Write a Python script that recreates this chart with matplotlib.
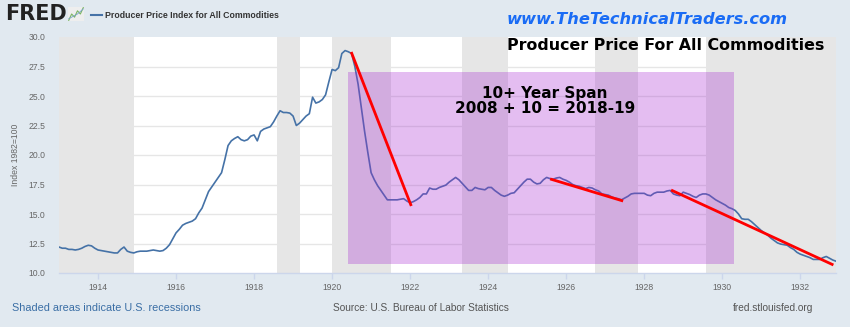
import numpy as np
import matplotlib
matplotlib.use("Agg")
from matplotlib import pyplot as plt
from matplotlib.patches import Rectangle

# monthly PPI, all commodities (Index 1982=100), Jan 1913 .. Dec 1932
ppi = [
    12.2, 12.1, 12.1, 12.0, 12.0, 11.95, 12.0, 12.1, 12.25, 12.35, 12.3, 12.1,    # 1913
    11.95, 11.9, 11.85, 11.8, 11.75, 11.7, 11.7, 12.0, 12.2, 11.85, 11.75, 11.7,  # 1914
    11.8, 11.85, 11.85, 11.85, 11.9, 11.95, 11.9, 11.85, 11.9, 12.1, 12.4, 12.9,  # 1915
    13.4, 13.7, 14.05, 14.2, 14.3, 14.4, 14.6, 15.1, 15.5, 16.2, 16.9, 17.3,      # 1916
    17.7, 18.1, 18.5, 19.6, 20.8, 21.2, 21.4, 21.55, 21.3, 21.2, 21.3, 21.6,      # 1917
    21.7, 21.2, 22.0, 22.2, 22.3, 22.4, 22.8, 23.3, 23.75, 23.6, 23.6, 23.55,     # 1918
    23.3, 22.5, 22.7, 23.0, 23.3, 23.5, 24.9, 24.4, 24.5, 24.7, 25.1, 26.2,       # 1919
    27.25, 27.15, 27.4, 28.6, 28.85, 28.75, 28.6, 27.5, 26.0, 24.0, 22.0, 20.2,   # 1920
    18.5, 17.9, 17.4, 17.0, 16.6, 16.2, 16.2, 16.2, 16.2, 16.25, 16.3, 16.1,      # 1921
    15.95, 16.05, 16.2, 16.4, 16.7, 16.7, 17.2, 17.1, 17.1, 17.25, 17.35, 17.45,  # 1922
    17.7, 17.9, 18.1, 17.9, 17.6, 17.3, 17.0, 17.0, 17.25, 17.15, 17.1, 17.05,    # 1923
    17.25, 17.25, 17.0, 16.8, 16.6, 16.5, 16.6, 16.75, 16.8, 17.1, 17.4, 17.7,    # 1924
    17.95, 17.95, 17.7, 17.55, 17.6, 17.9, 18.1, 18.0, 17.95, 18.05, 18.1, 17.95, # 1925
    17.85, 17.7, 17.5, 17.4, 17.35, 17.25, 17.15, 17.25, 17.2, 17.05, 16.95, 16.7, # 1926
    16.65, 16.6, 16.45, 16.35, 16.3, 16.2, 16.35, 16.5, 16.7, 16.75, 16.75, 16.75, # 1927
    16.75, 16.6, 16.55, 16.75, 16.85, 16.85, 16.85, 16.95, 17.0, 16.7, 16.6, 16.55, # 1928
    16.85, 16.75, 16.65, 16.5, 16.4, 16.6, 16.7, 16.7, 16.6, 16.4, 16.2, 16.05,   # 1929
    15.9, 15.75, 15.55, 15.45, 15.3, 15.0, 14.6, 14.55, 14.55, 14.35, 14.1, 13.85, # 1930
    13.6, 13.4, 13.2, 12.95, 12.75, 12.55, 12.45, 12.4, 12.35, 12.15, 12.0, 11.75, # 1931
    11.6, 11.5, 11.4, 11.3, 11.15, 11.15, 11.15, 11.3, 11.4, 11.25, 11.1, 11.0,   # 1932
]
start_year = 1913

# NBER recessions (start, end) as decimal years
rec_start = [1913.0, 1918.583, 1920.0, 1923.333, 1926.75, 1929.583]
rec_end = [1914.917, 1919.167, 1921.5, 1924.5, 1927.833, 1933.0]

# hand-drawn trend lines
trend_x0 = [1920.49, 1925.59, 1928.69]
trend_y0 = [28.73, 17.97, 17.03]
trend_x1 = [1922.03, 1927.46, 1932.85]
trend_y1 = [15.68, 16.10, 10.68]

# highlighted "10+ year span" box
span_x = [1920.41, 1930.31]
span_y = [10.76, 27.03]

xticks = list(range(1914, 1933, 2))
yticks = [10.0, 12.5, 15.0, 17.5, 20.0, 22.5, 25.0, 27.5, 30.0]

bg = '#e1e9f0'
blue = '#4572a7'
shade = '#e6e6e6'

fig = plt.figure(figsize=(8.5, 3.27), dpi=100, facecolor=bg)
plt.rcParams['font.family'] = ['Liberation Sans', 'DejaVu Sans']
ax = fig.add_axes([59/850, 1-273/327, (836-59)/850, (273-37)/327])
ax.set_facecolor('white')

x = start_year + np.arange(len(ppi)) / 12.0

for yt in yticks[1:-1]:
    ax.axhline(yt, color='#e6e6e6', lw=1.0, zorder=0)
for s, e in zip(rec_start, rec_end):
    ax.axvspan(s, e, color=shade, lw=0, zorder=1)

ax.plot(x, ppi, color=blue, lw=1.2, zorder=3)

ax.add_patch(Rectangle((span_x[0], span_y[0]), span_x[1]-span_x[0], span_y[1]-span_y[0],
                       facecolor=(0.65, 0.15, 0.82), alpha=0.3, lw=0, zorder=4))

for i in range(len(trend_x0)):
    ax.plot([trend_x0[i], trend_x1[i]], [trend_y0[i], trend_y1[i]],
            color='red', lw=2.0, zorder=5, solid_capstyle='butt')

ax.set_xlim(x[0], x[-1])
ax.set_ylim(10, 30)
ax.set_xticks(xticks)
ax.set_xticklabels([str(t) for t in xticks])
ax.set_yticks(yticks)
ax.set_yticklabels(['%.1f' % t for t in yticks])
for sp in ['top', 'right', 'left']:
    ax.spines[sp].set_visible(False)
ax.spines['bottom'].set_color('#ccd6eb')
ax.spines['bottom'].set_linewidth(1.0)
ax.tick_params(axis='x', colors='#ccd6eb', labelcolor='#666666', labelsize=6.2,
               length=4, width=1, pad=3)
ax.tick_params(axis='y', length=0, labelcolor='#666666', labelsize=6.2, pad=10)
ax.set_ylabel('Index 1982=100', color='#666666', fontsize=6.2, labelpad=6)

mid = 0.5*(span_x[0]+span_x[1]) + 0.1
ax.text(mid, 25.25, '10+ Year Span', ha='center', va='center',
        fontsize=11, fontweight='bold', family='DejaVu Sans', zorder=6)
ax.text(mid, 23.98, '2008 + 10 = 2018-19', ha='center', va='center',
        fontsize=11, fontweight='bold', family='DejaVu Sans', zorder=6)

# header
fig.text(5/850, 1-14/327, 'FRED', fontsize=15, fontweight='bold', color='#222222',
         va='center', family='DejaVu Sans')
icon = fig.add_axes([68/850, 1-21/327, 16/850, 14/327])
icon.set_facecolor('#eeeeee')
icon.plot([0, 1, 2, 3, 4, 5], [0, 2, 1, 3, 2, 4], color='#7bb662', lw=0.8)
icon.plot([0, 1, 2, 3, 4, 5], [0.5, 1, 1.5, 2, 2.8, 3.6], color='#7aa3cc', lw=0.6)
icon.set_xticks([]); icon.set_yticks([])
for sp in icon.spines.values():
    sp.set_visible(False)
fig.add_artist(plt.Line2D([91/850, 102/850], [1-15/327, 1-15/327], color=blue, lw=1.5))
fig.text(105/850, 1-15/327, 'Producer Price Index for All Commodities', fontsize=6.3,
         color='#333333', va='center', fontweight='bold')

fig.text(647/850, 1-20/327, 'www.TheTechnicalTraders.com', fontsize=11.7, fontweight='bold',
         style='italic', color='#1a6cf5', ha='center', va='center', family='DejaVu Sans')
fig.text(666/850, 1-45/327, 'Producer Price For All Commodities', fontsize=11.4, fontweight='bold',
         color='black', ha='center', va='center', family='DejaVu Sans')

# footer
fig.text(12/850, 1-308/327, 'Shaded areas indicate U.S. recessions', fontsize=7.8,
         color='#3a6ea5', va='center')
fig.text(421/850, 1-308/327, 'Source: U.S. Bureau of Labor Statistics', fontsize=7.3,
         color='#555555', va='center', ha='center')
fig.text(813/850, 1-308/327, 'fred.stlouisfed.org', fontsize=7.3,
         color='#555555', va='center', ha='right')

fig.savefig('out.png', dpi=100, facecolor=bg)
